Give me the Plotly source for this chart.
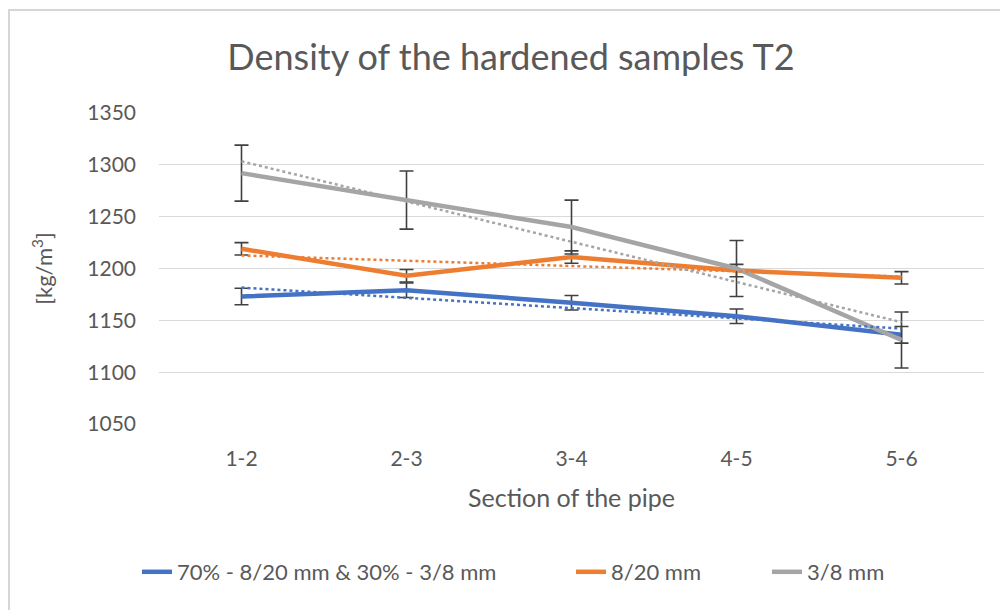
import numpy as np
import plotly.graph_objects as go

sections = ["1-2", "2-3", "3-4", "4-5", "5-6"]
mix_vals = [1173, 1179, 1167, 1154, 1136]
mix_err = [8, 7, 7, 7, 8]
coarse_vals = [1219, 1193, 1211, 1198, 1191]
coarse_err = [6, 6, 6, 6, 6]
fine_vals = [1292, 1266, 1240, 1200, 1131]
fine_err = [27, 28, 26, 27, 27]

series = [
    ("70% - 8/20 mm & 30% - 3/8 mm", mix_vals, mix_err, "#4472C4", "legend"),
    ("8/20 mm", coarse_vals, coarse_err, "#ED7D31", "legend2"),
    ("3/8 mm", fine_vals, fine_err, "#A5A5A5", "legend3"),
]

FONT = "Lato"
TXT = "#595959"

fig = go.Figure()
for name, vals, err, col, leg in series:
    fig.add_trace(go.Scatter(
        x=sections, y=vals, name=name, mode="lines", legend=leg,
        line=dict(color=col, width=4.5),
        error_y=dict(type="data", array=err, visible=True,
                     color="#404040", thickness=1.6, width=7),
    ))

# linear trendlines (as in the original chart)
xi = np.arange(len(sections))
for name, vals, err, col, leg in series:
    k, b = np.polyfit(xi, vals, 1)
    fig.add_trace(go.Scatter(
        x=sections, y=k * xi + b, mode="lines", showlegend=False,
        line=dict(color=col, width=2.5, dash="dot"), hoverinfo="skip",
    ))

L, R, T, B = 159, 16, 113, 186
W, H = 1000, 610
pw, ph = W - L - R, H - T - B

def px(x):
    return (x - L) / pw

def py(y):
    return (H - B - y) / ph

fig.add_shape(type="rect", xref="paper", yref="paper",
              x0=px(9), x1=px(1010), y0=py(10), y1=py(620),
              line=dict(color="#d6d6d6", width=2), fillcolor="rgba(0,0,0,0)",
              layer="below")

legfont = dict(family=FONT, size=22, color=TXT)
legcommon = dict(orientation="h", xanchor="left", y=py(572), yanchor="middle",
                 font=legfont, bgcolor="rgba(0,0,0,0)")

fig.update_layout(
    width=W, height=H,
    margin=dict(l=L, r=R, t=T, b=B),
    paper_bgcolor="white", plot_bgcolor="white",
    font=dict(family=FONT, color=TXT),
    title=dict(text="Density of the hardened samples T2",
               font=dict(family=FONT, size=36, color=TXT),
               x=0.511, xanchor="center", y=1 - 57 / H, yanchor="middle"),
    showlegend=True,
    legend=dict(x=px(137), **legcommon),
    legend2=dict(x=px(571), **legcommon),
    legend3=dict(x=px(767), **legcommon),
)
fig.update_xaxes(
    type="category", range=[-0.5, 4.5], showgrid=False, zeroline=False,
    showline=False, ticks="", tickfont=dict(size=21, color=TXT),
    ticklabelstandoff=20,
    title=dict(text="Section of the pipe", font=dict(size=25, color=TXT), standoff=20),
)
fig.update_yaxes(
    range=[1050, 1350], dtick=50, tick0=1050, showgrid=True,
    gridcolor="#d9d9d9", gridwidth=1.2, zeroline=False, showline=False,
    ticks="", tickfont=dict(size=21, color=TXT), ticklabelstandoff=22,
    title=dict(text="[kg/m<sup>3</sup>]", font=dict(size=22, color=TXT), standoff=28),
)

fig.write_html("out.html")
